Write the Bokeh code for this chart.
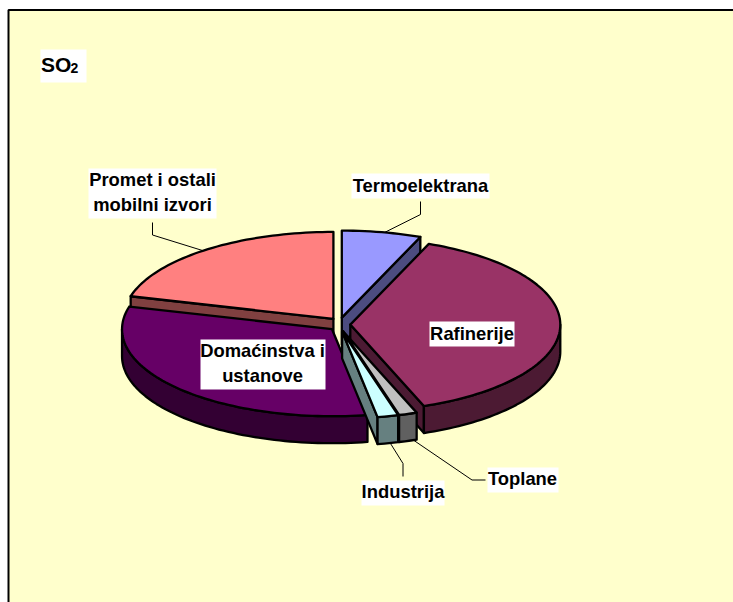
import math
from bokeh.plotting import figure
from bokeh.core.properties import value
from bokeh.embed import file_html
from bokeh.resources import INLINE

# ---- data (percent shares, clockwise from 12 o'clock)
categories = ["Termoelektrana", "Rafinerije", "Toplane", "Industrija",
              "Domaćinstva i ustanove", "Promet i ostali mobilni izvori"]
shares = [6.1, 38.2, 1.4, 1.6, 31.9, 20.8]
top_colors = ["#9999FF", "#993366", "#C0C0C0", "#CCFFFF", "#660066", "#FF8080"]
side_colors = ["#4C4C80", "#4C1A33", "#606060", "#668080", "#330033", "#804040"]

# ---- geometry of the page (pixel coordinates of the window)
W, H = 733, 602
CX, CY = 339.3, 324.0
RX, RY = 210.0, 87.0
EX, EY = 10.5, 7.0
DEPTH = 27.0
FONT = value("Liberation Sans")

p = figure(width=W, height=H, x_range=(0, W), y_range=(H, 0),
           toolbar_location=None, output_backend="svg", min_border=0,
           background_fill_color=None, border_fill_color=None, outline_line_color=None)
p.axis.visible = False
p.grid.visible = False

# panel and its two visible edges
p.quad(left=[8], right=[W], top=[9.5], bottom=[H], fill_color="#FFFFCC", line_color=None)
p.line([8, 8, W], [H, 9.5, 9.5], line_color="#000000", line_width=2)


def arc(cx, cy, a0, a1, dy=0.0):
    n = max(2, int(abs(a1 - a0) / 1.5) + 1)
    ts = [math.radians(a0 + (a1 - a0) * i / (n - 1)) for i in range(n)]
    return [cx + RX * math.sin(t) for t in ts], [cy - RY * math.cos(t) + dy for t in ts]


# angular spans
spans = []
acc = 0.0
for s in shares:
    spans.append((acc, acc + s * 3.6))
    acc += s * 3.6

# slice back-to-front order
order = [5, 0, 1, 4, 2, 3]
for i in order:
    a0, a1 = spans[i]
    mid = math.radians((a0 + a1) / 2)
    cx = CX + EX * math.sin(mid)
    cy = CY - EY * math.cos(mid)
    top, side = top_colors[i], side_colors[i]
    kw = dict(fill_color=side, line_color="#000000", line_width=2.3, line_join="round")
    # visible cut faces
    for a, vis in ((a0, math.sin(math.radians(a0)) < -1e-6), (a1, math.sin(math.radians(a1)) > 1e-6)):
        if vis:
            ox = cx + RX * math.sin(math.radians(a))
            oy = cy - RY * math.cos(math.radians(a))
            p.patch([cx, ox, ox, cx], [cy, oy, oy + DEPTH, cy + DEPTH], **kw)
    # visible outer wall: the front half of the ellipse
    lo, hi = max(a0, 90.0), min(a1, 270.0)
    if hi > lo:
        xs, ys = arc(cx, cy, lo, hi)
        xb, yb = arc(cx, cy, hi, lo, DEPTH)
        p.patch(xs + xb, ys + yb, **kw)
    # top face
    xs, ys = arc(cx, cy, a0, a1)
    p.patch([cx] + xs, [cy] + ys, fill_color=top, line_color="#000000", line_width=2.3, line_join="round")

# leader lines
leaders = [
    ([420, 420, 384], [201, 214, 232]),
    ([152, 152, 202], [222, 234.5, 250]),
    ([485, 471.5, 413.5], [479.5, 479.5, 440]),
    ([402.5, 402.5, 390], [476, 463, 443]),
]
for lx, ly in leaders:
    p.line(lx, ly, line_color="#000000", line_width=1)

# label boxes: left, right, top, bottom
boxes = [
    (351, 489, 173, 198), (88, 216, 168, 218), (429, 514, 321, 346),
    (200, 325, 339, 389), (487, 558, 467, 492), (361, 444, 480, 505), (40, 86, 49, 82),
]
p.quad(left=[b[0] for b in boxes], right=[b[1] for b in boxes],
       top=[b[2] for b in boxes], bottom=[b[3] for b in boxes],
       fill_color="#FFFFFF", line_color=None)

label_lines = ["Termoelektrana", "Promet i ostali", "mobilni izvori", "Rafinerije",
               "Domaćinstva i", "ustanove", "Toplane", "Industrija"]
label_x = [420, 152, 152, 471.5, 262, 262, 522, 402.5]
label_y = [184.5, 178.5, 204, 332.5, 349.5, 375, 478, 491]
p.text(x=label_x, y=label_y, text=label_lines, text_font=FONT, text_font_style="bold",
       text_font_size="18.4px", text_align="center", text_baseline="middle", text_color="#000000")

# title SO2
p.text(x=[40.5], y=[63.5], text=["SO"], text_font=FONT, text_font_style="bold",
       text_font_size="21px", text_align="left", text_baseline="middle", text_color="#000000")
p.text(x=[70], y=[67], text=["2"], text_font=FONT, text_font_style="bold",
       text_font_size="14px", text_align="left", text_baseline="middle", text_color="#000000")

open("out.html", "w").write(file_html(p, INLINE))
